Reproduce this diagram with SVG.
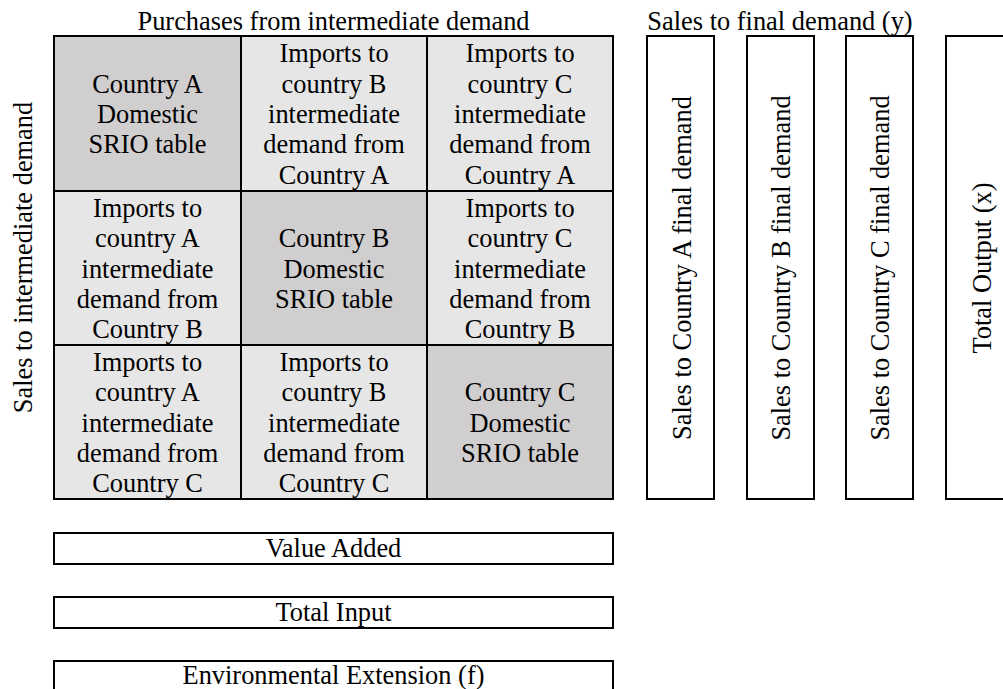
<svg xmlns="http://www.w3.org/2000/svg" width="1003" height="689" viewBox="0 0 1003 689">
<style>
text{font-family:"Liberation Serif","Times New Roman",serif;font-size:26.4px;fill:#000;text-anchor:middle}
.dom{fill:#d0cece;stroke:#000;stroke-width:2}
.imp{fill:#e7e6e6;stroke:#000;stroke-width:2}
.box{fill:#fff;stroke:#000;stroke-width:2}
</style>
<rect width="1003" height="689" fill="#fff"/>
<text id="title-purchases" x="333.5" y="30">Purchases from intermediate demand</text>
<text id="title-final" x="780" y="30">Sales to final demand (y)</text>
<text id="title-sales-int" transform="translate(32,257.5) rotate(-90)">Sales to intermediate demand</text>
<g id="cell-AA"><rect class="dom" x="54" y="36" width="187" height="155"/>
<text x="147.5" y="92.7">Country A</text><text x="147.5" y="123">Domestic</text><text x="147.5" y="153.3">SRIO table</text></g>
<g id="cell-AB"><rect class="imp" x="241" y="36" width="186" height="155"/>
<text x="334" y="62.4">Imports to</text><text x="334" y="92.7">country B</text><text x="334" y="123">intermediate</text><text x="334" y="153.3">demand from</text><text x="334" y="183.6">Country A</text></g>
<g id="cell-AC"><rect class="imp" x="427" y="36" width="186" height="155"/>
<text x="520" y="62.4">Imports to</text><text x="520" y="92.7">country C</text><text x="520" y="123">intermediate</text><text x="520" y="153.3">demand from</text><text x="520" y="183.6">Country A</text></g>
<g id="cell-BA"><rect class="imp" x="54" y="191" width="187" height="154"/>
<text x="147.5" y="216.9">Imports to</text><text x="147.5" y="247.2">country A</text><text x="147.5" y="277.5">intermediate</text><text x="147.5" y="307.8">demand from</text><text x="147.5" y="338.1">Country B</text></g>
<g id="cell-BB"><rect class="dom" x="241" y="191" width="186" height="154"/>
<text x="334" y="247.2">Country B</text><text x="334" y="277.5">Domestic</text><text x="334" y="307.8">SRIO table</text></g>
<g id="cell-BC"><rect class="imp" x="427" y="191" width="186" height="154"/>
<text x="520" y="216.9">Imports to</text><text x="520" y="247.2">country C</text><text x="520" y="277.5">intermediate</text><text x="520" y="307.8">demand from</text><text x="520" y="338.1">Country B</text></g>
<g id="cell-CA"><rect class="imp" x="54" y="345" width="187" height="154"/>
<text x="147.5" y="370.9">Imports to</text><text x="147.5" y="401.2">country A</text><text x="147.5" y="431.5">intermediate</text><text x="147.5" y="461.8">demand from</text><text x="147.5" y="492.1">Country C</text></g>
<g id="cell-CB"><rect class="imp" x="241" y="345" width="186" height="154"/>
<text x="334" y="370.9">Imports to</text><text x="334" y="401.2">country B</text><text x="334" y="431.5">intermediate</text><text x="334" y="461.8">demand from</text><text x="334" y="492.1">Country C</text></g>
<g id="cell-CC"><rect class="dom" x="427" y="345" width="186" height="154"/>
<text x="520" y="401.2">Country C</text><text x="520" y="431.5">Domestic</text><text x="520" y="461.8">SRIO table</text></g>
<g id="bar-A"><rect class="box" x="647" y="36" width="67" height="463"/>
<text transform="translate(690.5,268) rotate(-90)">Sales to Country A final demand</text></g>
<g id="bar-B"><rect class="box" x="747" y="36" width="67" height="463"/>
<text transform="translate(789.5,268) rotate(-90)">Sales to Country B final demand</text></g>
<g id="bar-C"><rect class="box" x="846" y="36" width="67" height="463"/>
<text transform="translate(889,268) rotate(-90)">Sales to Country C final demand</text></g>
<g id="bar-total"><rect class="box" x="946" y="36" width="80" height="463"/>
<text transform="translate(991,268) rotate(-90)">Total Output (x)</text></g>
<g id="value-added"><rect class="box" x="54" y="533" width="559" height="31"/>
<text x="333.5" y="557">Value Added</text></g>
<g id="total-input"><rect class="box" x="54" y="597" width="559" height="31"/>
<text x="333.5" y="621">Total Input</text></g>
<g id="env-ext"><rect class="box" x="54" y="661" width="559" height="40"/>
<text x="333.5" y="684">Environmental Extension (f)</text></g>
<g id="connectors"></g>
</svg>
